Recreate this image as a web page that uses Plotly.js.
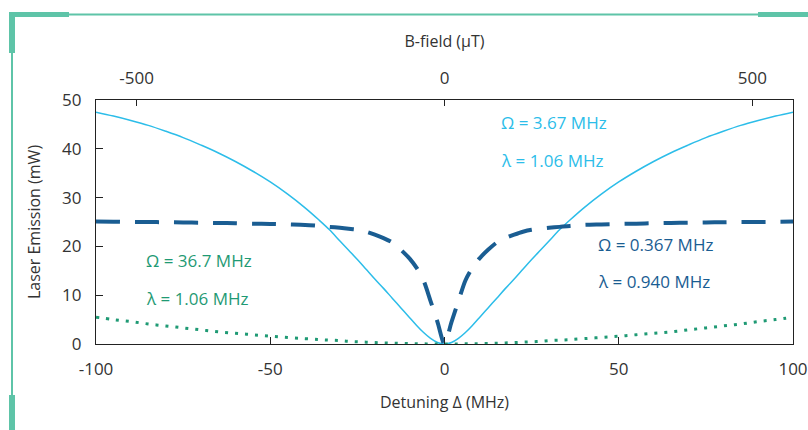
<!DOCTYPE html>
<html>
<head>
<meta charset="utf-8">
<script src="https://cdn.plot.ly/plotly-3.0.1.min.js"></script>
<style>html,body{margin:0;padding:0;background:#fff;}#chart{width:808px;height:430px;}</style>
</head>
<body>
<div id="chart"></div>
<script>
// Detuning (MHz) sample points
const detuning = [-100,-95,-90,-85,-80,-75,-70,-65,-60,-55,-50,-45,-40,-36,-33,-30,-27.5,-25,-22.5,-20,-17.5,-15,-12.5,-10,-8,-6,-4,-2,0,2,4,6,8,10,12.5,15,17.5,20,22.5,25,27.5,30,33,36,40,45,50,55,60,65,70,75,80,85,90,95,100];
// Omega = 3.67 MHz, lambda = 1.06 MHz (light blue solid)
const emissionA = [47.5,46.7,45.8,44.8,43.6,42.3,40.8,39.2,37.4,35.4,33.2,30.7,27.9,25.4,23.4,21.1,19.2,17.3,15.3,13.3,11.4,9.4,7.4,5.4,3.8,2.35,1.15,0.3,0,0.3,1.15,2.35,3.8,5.4,7.4,9.4,11.4,13.3,15.3,17.3,19.2,21.1,23.4,25.4,27.9,30.7,33.2,35.4,37.4,39.2,40.8,42.3,43.6,44.8,45.8,46.7,47.5];
// Omega = 0.367 MHz, lambda = 0.940 MHz (dark blue dashed)
const emissionB = [25.1,25.05,25.0,25.0,24.95,24.9,24.85,24.8,24.75,24.65,24.6,24.5,24.4,24.2,24.0,23.8,23.6,23.4,23.0,22.4,21.7,20.8,19.3,17.5,15.6,13.0,8.8,4.5,0,4.5,8.8,13.0,15.6,17.5,19.3,20.8,21.7,22.4,23.0,23.4,23.6,23.8,24.0,24.2,24.4,24.5,24.6,24.65,24.75,24.8,24.85,24.9,24.95,25.0,25.0,25.05,25.1];
// Omega = 36.7 MHz, lambda = 1.06 MHz (green dotted)
const emissionC = [5.5,5.0,4.6,4.1,3.7,3.3,2.9,2.5,2.2,1.9,1.6,1.35,1.1,0.9,0.8,0.7,0.55,0.45,0.38,0.3,0.23,0.17,0.12,0.08,0.05,0.03,0.01,0,0,0,0.01,0.03,0.05,0.08,0.12,0.17,0.23,0.3,0.38,0.45,0.55,0.7,0.8,0.9,1.1,1.35,1.6,1.9,2.2,2.5,2.9,3.3,3.7,4.1,4.6,5.0,5.5];

const xTicks = [-100,-50,0,50,100];
const xTickText = ['-100','-50','0','50','100'];
const yTicks = [0,10,20,30,40,50];
const yTickText = ['0','10','20','30','40','50'];
const bTicks = [-500,0,500];
const bTickText = ['-500','0','500'];
const bRange = [-566,566];

const labelsA = ['Ω = 3.67 MHz','λ = 1.06 MHz'];
const labelsB = ['Ω = 0.367 MHz','λ = 0.940 MHz'];
const labelsC = ['Ω = 36.7 MHz','λ = 1.06 MHz'];

const cLight = '#2cbde9', cDark = '#1a5d92', cGreen = '#1f9a74', cTeal = '#5ec4a8';
const FONT = 'Open Sans, Noto Sans, sans-serif';

const traces = [
  {x: detuning, y: emissionA, mode: 'lines', line: {color: cLight, width: 1.5, shape: 'spline', smoothing: 1}, hoverinfo: 'skip'},
  {x: detuning, y: emissionB, mode: 'lines', line: {color: cDark, width: 4, dash: '24px,15px', shape: 'spline', smoothing: 0.8}, hoverinfo: 'skip'},
  {x: detuning, y: emissionC, mode: 'lines', line: {color: cGreen, width: 3, dash: '3px,7px', shape: 'spline', smoothing: 1}, hoverinfo: 'skip'},
  // carrier so the top B-field axis is drawn (no visible marks)
  {x: bRange, y: [null, null], xaxis: 'x2', yaxis: 'y', mode: 'lines', hoverinfo: 'skip', showlegend: false}
];

// pixel -> paper helpers for decoration (plot area 96..793 x 100..344)
const L = 96, R = 793, T = 100, B = 344;
const px = v => (v - L) / (R - L);
const py = v => (B - v) / (B - T);
const rect = (x0, y0, x1, y1) => ({type: 'rect', xref: 'paper', yref: 'paper', x0: px(x0), x1: px(x1), y0: py(y1), y1: py(y0), fillcolor: cTeal, line: {width: 0}, layer: 'above'});
const shapes = [
  {type: 'line', xref: 'paper', yref: 'paper', x0: px(12), x1: px(808), y0: py(14.5), y1: py(14.5), line: {color: cTeal, width: 2}},
  {type: 'line', xref: 'paper', yref: 'paper', x0: px(12), x1: px(12), y0: py(14), y1: py(430), line: {color: cTeal, width: 2}},
  rect(9, 12, 69, 17),
  rect(758, 12, 808, 17),
  rect(9, 12, 15, 53),
  rect(9, 395, 15, 430)
];

const ann = (t, x, y, c) => ({text: t, x: x, y: y, xref: 'x', yref: 'y', xanchor: 'left', yanchor: 'middle', showarrow: false, font: {family: FONT, size: 17, color: c}});
const annotations = [
  ann(labelsA[0], 15.6, 45.3, cLight), ann(labelsA[1], 15.6, 37.7, cLight),
  ann(labelsB[0], 43.4, 20.3, cDark), ann(labelsB[1], 43.4, 12.8, cDark),
  ann(labelsC[0], -86.2, 17.1, cGreen), ann(labelsC[1], -86.2, 9.4, cGreen)
];

const axisCommon = {showgrid: false, zeroline: false, ticks: 'inside', ticklen: 7, tickcolor: '#222', linecolor: '#222', linewidth: 1.2, tickfont: {family: FONT, size: 17, color: '#333'}};
const titleFont = {family: FONT, size: 16, color: '#333'};

const layout = {
  width: 808, height: 430,
  margin: {l: L, r: 808 - R, t: T, b: 430 - B},
  paper_bgcolor: '#fff', plot_bgcolor: '#fff',
  showlegend: false,
  xaxis: Object.assign({}, axisCommon, {range: [-100, 100], tickvals: xTicks, ticktext: xTickText, showline: true, ticklabelstandoff: 9,
    title: {text: 'Detuning Δ (MHz)', font: titleFont, standoff: 18}}),
  yaxis: Object.assign({}, axisCommon, {range: [0, 50], tickvals: yTicks, ticktext: yTickText, showline: true, mirror: true, ticklabelstandoff: 10,
    title: {text: 'Laser Emission (mW)', font: titleFont, standoff: 17}}),
  xaxis2: Object.assign({}, axisCommon, {range: bRange, tickvals: bTicks, ticktext: bTickText, overlaying: 'x', side: 'top', anchor: 'y', showline: true, ticklen: 6, ticklabelstandoff: 8,
    title: {text: 'B-field (μT)', font: titleFont, standoff: 14}}),
  shapes: shapes,
  annotations: annotations
};

Plotly.newPlot('chart', traces, layout, {staticPlot: true, displayModeBar: false});
</script>
</body>
</html>
